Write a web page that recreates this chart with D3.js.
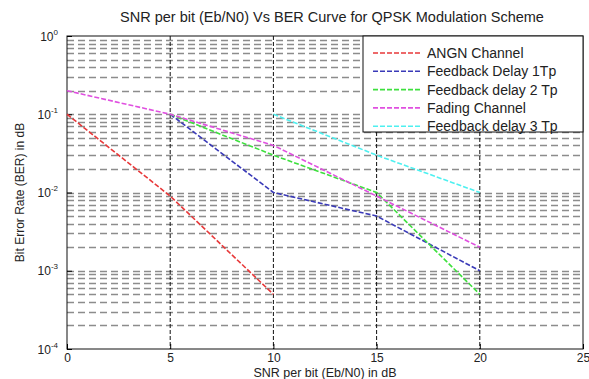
<!DOCTYPE html>
<html>
<head>
<meta charset="utf-8">
<script src="https://cdn.jsdelivr.net/npm/d3@7"></script>
<style>
  body { margin: 0; background: #fff; }
  text { font-family: "Liberation Sans", Arial, sans-serif; fill: #222; }
</style>
</head>
<body>
<script>
// chart data
const snr = [0, 5, 10, 15, 20];
const awgn = [0.1, 0.009, 0.0005, null, null];
const delay1 = [null, 0.1, 0.01, 0.005, 0.001];
const delay2 = [null, 0.1, 0.03, 0.01, 0.0005];
const fading = [0.2, 0.1, 0.04, 0.009, 0.002];
const delay3 = [null, null, 0.1, 0.03, 0.01];
const seriesNames = ["ANGN Channel", "Feedback Delay 1Tp", "Feedback delay 2 Tp", "Fading Channel", "Feedback delay 3 Tp"];
const seriesColors = ["#e8393a", "#3a3ab8", "#3ee03e", "#e050e0", "#4ef0f0"];
const xTicks = [0, 5, 10, 15, 20, 25];
const yDecades = [0, -1, -2, -3, -4];

(function() {
  const width = 589, height = 379;
  const left = 67, right = 583, top = 36, bottom = 349;

  const svg = d3.select('body').append('svg')
    .attr('width', width)
    .attr('height', height);

  const xScale = d3.scaleLinear().domain([0, 25]).range([left, right]);
  const yScale = d3.scaleLog().domain([1e-4, 1]).range([bottom, top]);

  // horizontal grid, major + minor decades
  let gridVals = [];
  for (let e = -4; e < 0; e++) {
    for (let m = 1; m < 10; m++) gridVals.push(m * Math.pow(10, e));
  }
  svg.append('g').selectAll('line')
    .data(gridVals.filter((v) => v > 1e-4))
    .enter().append('line')
      .attr('x1', left).attr('x2', right)
      .attr('y1', (d) => Math.round(yScale(d)) + 0.5)
      .attr('y2', (d) => Math.round(yScale(d)) + 0.5)
      .attr('stroke', '#8c8c8c')
      .attr('stroke-width', 1.5)
      .attr('stroke-dasharray', '7,4');

  // vertical grid (black dotted)
  svg.append('g').selectAll('line')
    .data(xTicks.filter((d) => d > 0 && d < 25))
    .enter().append('line')
      .attr('x1', (d) => xScale(d)).attr('x2', (d) => xScale(d))
      .attr('y1', top).attr('y2', bottom)
      .attr('stroke', '#111')
      .attr('stroke-width', 1)
      .attr('stroke-dasharray', '4,2');

  // box
  svg.append('rect')
    .attr('x', left).attr('y', top)
    .attr('width', right - left).attr('height', bottom - top)
    .attr('fill', 'none')
    .attr('stroke', '#111')
    .attr('stroke-width', 1);

  // axes
  const xAxis = d3.axisBottom(xScale).tickValues(xTicks).tickSize(-5).tickPadding(4).tickFormat(d3.format('d'));
  const gx = svg.append('g').attr('transform', 'translate(0,' + bottom + ')').call(xAxis);
  gx.select('.domain').remove();
  gx.selectAll('text').style('font-size', '12px').attr('fill', '#333');

  const yAxis = d3.axisLeft(yScale).tickValues(yDecades.map((e) => Math.pow(10, e))).tickSize(-5).tickPadding(6).tickFormat('');
  const gy = svg.append('g').attr('transform', 'translate(' + left + ',0)').call(yAxis);
  gy.select('.domain').remove();
  gy.selectAll('.tick').each(function(d) {
    const t = d3.select(this).append('text')
      .attr('x', -9).attr('y', 4)
      .attr('text-anchor', 'end')
      .style('font-size', '12px')
      .attr('fill', '#333');
    t.append('tspan').text('10');
    t.append('tspan').attr('dy', -6).style('font-size', '8px').text(Math.round(Math.log10(d)));
  });

  // series
  const allSeries = [awgn, delay1, delay2, fading, delay3];
  const line = d3.line()
    .defined((d) => d.v != null)
    .x((d) => xScale(d.x))
    .y((d) => yScale(d.v));
  allSeries.forEach((vals, i) => {
    const pts = snr.map((x, j) => ({x: x, v: vals[j]}));
    svg.append('path')
      .datum(pts)
      .attr('fill', 'none')
      .attr('stroke', seriesColors[i])
      .attr('stroke-width', 1.6)
      .attr('stroke-dasharray', '5,2')
      .attr('d', line);
  });

  // legend
  const lg = svg.append('g');
  lg.append('rect')
    .attr('x', 363).attr('y', top)
    .attr('width', right - 363).attr('height', 96)
    .attr('fill', '#fff')
    .attr('stroke', '#111');
  seriesNames.forEach((name, i) => {
    const yy = 53 + i * 18.3;
    lg.append('line')
      .attr('x1', 373).attr('x2', 420)
      .attr('y1', yy).attr('y2', yy)
      .attr('stroke', seriesColors[i])
      .attr('stroke-width', 1.6)
      .attr('stroke-dasharray', '5,2');
    lg.append('text')
      .attr('x', 427).attr('y', yy + 5)
      .style('font-size', '14px')
      .attr('fill', '#333')
      .text(name);
  });

  // title and labels
  svg.append('text')
    .attr('x', 332).attr('y', 22)
    .attr('text-anchor', 'middle')
    .style('font-size', '14.5px')
    .attr('fill', '#333')
    .text('SNR per bit (Eb/N0) Vs BER Curve for QPSK Modulation Scheme');

  svg.append('text')
    .attr('x', (left + right) / 2).attr('y', 377)
    .attr('text-anchor', 'middle')
    .style('font-size', '12.5px')
    .attr('fill', '#333')
    .text('SNR per bit (Eb/N0) in dB');

  svg.append('text')
    .attr('transform', 'translate(24,' + ((top + bottom) / 2) + ')rotate(-90)')
    .attr('text-anchor', 'middle')
    .style('font-size', '12px')
    .attr('fill', '#333')
    .text('Bit Error Rate (BER) in dB');
})();
</script>
</body>
</html>
